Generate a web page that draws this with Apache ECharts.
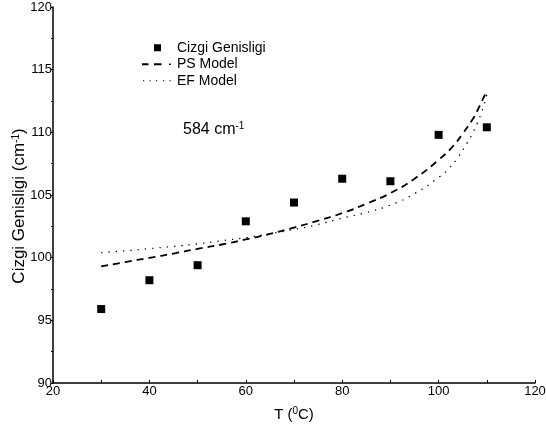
<!DOCTYPE html>
<html>
<head>
<meta charset="utf-8">
<script src="https://cdn.jsdelivr.net/npm/echarts@6/dist/echarts.min.js"></script>
<style>html,body{margin:0;padding:0;background:#fff}#c{width:546px;height:427px}</style>
</head>
<body>
<div id="c"></div>
<script>
// Measured data (Cizgi Genisligi)
var measT = [30, 40, 50, 60, 70, 80, 90, 100, 110];
var measW = [95.9, 98.2, 99.4, 102.9, 104.4, 106.3, 106.1, 109.8, 110.4];

// PS Model curve
var psT = [30, 35, 40, 45, 50, 55, 60, 65, 70, 75, 80, 85, 90, 95, 100, 103, 105, 107, 108, 109, 110];
var psW = [99.3, 99.65, 99.98, 100.33, 100.7, 101.05, 101.45, 101.9, 102.4, 102.95, 103.55, 104.3, 105.15, 106.3, 107.8, 108.9, 109.9, 111.0, 111.7, 112.5, 113.3];

// EF Model curve
var efT = [30, 35, 40, 45, 50, 55, 60, 65, 70, 75, 80, 85, 90, 95, 100, 102, 104, 106, 107, 108, 109, 110];
var efW = [100.4, 100.55, 100.72, 100.9, 101.1, 101.35, 101.6, 101.9, 102.25, 102.65, 103.15, 103.6, 104.2, 105.1, 106.4, 107.05, 108.0, 109.2, 109.9, 110.7, 111.7, 113.0];

var seriesNames = ['Cizgi Genisligi', 'PS Model', 'EF Model'];

function zip(a, b) { return a.map(function (v, i) { return [v, b[i]]; }); }

// legend icons (30 x 8 box; corner stubs fix the bounding box)
var box = 'M0,0 L0.01,0 L0.01,0.01 Z M30,8 L29.99,8 L29.99,7.99 Z ';
var iconSquare = 'path://' + box + 'M12,0.5 L19,0.5 L19,7.5 L12,7.5 Z';
var iconDash = 'path://' + box + 'M0,3.1 L6.5,3.1 L6.5,4.9 L0,4.9 Z M12,3.1 L19.5,3.1 L19.5,4.9 L12,4.9 Z M27,3.2 L28.8,3.2 L28.8,4.8 L27,4.8 Z';
var iconDot = 'path://' + box + 'M1,3.4 L2.2,3.4 L2.2,4.6 L1,4.6 Z M7.5,3.4 L8.7,3.4 L8.7,4.6 L7.5,4.6 Z M14,3.4 L15.2,3.4 L15.2,4.6 L14,4.6 Z M21,3.4 L22.2,3.4 L22.2,4.6 L21,4.6 Z M27.5,3.4 L28.7,3.4 L28.7,4.6 L27.5,4.6 Z';

var font = 'Liberation Sans, Arial, sans-serif';
var supStyle = { fontSize: 10, verticalAlign: 'top', fontFamily: font, color: '#000', padding: [0, 0, 7, 0] };
var chart = echarts.init(document.getElementById('c'), null, { renderer: 'canvas' });
chart.setOption({
  animation: false,
  backgroundColor: '#fff',
  textStyle: { fontFamily: font, color: '#000' },
  grid: { left: 53, right: 11, top: 7, bottom: 44, containLabel: false, outerBoundsMode: 'none' },
  legend: {
    orient: 'vertical',
    left: 137, top: 35,
    itemWidth: 30, itemHeight: 8, itemGap: 1,
    itemStyle: { color: '#000', opacity: 1 },
    textStyle: { fontFamily: font, fontSize: 14, color: '#000', lineHeight: 15.5 },
    data: [
      { name: seriesNames[0], icon: iconSquare },
      { name: seriesNames[1], icon: iconDash },
      { name: seriesNames[2], icon: iconDot }
    ]
  },
  xAxis: {
    type: 'value', min: 20, max: 120, interval: 20,
    name: 'T ({s|0}C)',
    nameLocation: 'middle', nameGap: 23, nameMoveOverlap: false,
    nameTextStyle: {
      fontFamily: font, fontSize: 15, color: '#000',
      rich: { s: supStyle }
    },
    axisLine: { show: true, lineStyle: { color: '#000', width: 1.5 } },
    axisTick: { show: true, inside: true, length: 3, lineStyle: { color: '#000' } },
    minorTick: { show: true, splitNumber: 2, length: 3, lineStyle: { color: '#000' } },
    splitLine: { show: false },
    axisLabel: { fontFamily: font, fontSize: 13, color: '#000', margin: 2 }
  },
  yAxis: {
    type: 'value', min: 90, max: 120, interval: 5,
    name: 'Cizgi Genisligi (cm{s|-1})',
    nameLocation: 'middle', nameGap: 25, nameMoveOverlap: false,
    nameTextStyle: {
      fontFamily: font, fontSize: 17, color: '#000',
      padding: [0, 22, 0, 0],
      rich: { s: supStyle }
    },
    axisLine: { show: true, lineStyle: { color: '#000', width: 1.5 } },
    axisTick: { show: true, inside: false, length: 2, lineStyle: { color: '#000' } },
    minorTick: { show: true, splitNumber: 2, length: 2, lineStyle: { color: '#000' } },
    splitLine: { show: false },
    axisLabel: { fontFamily: font, fontSize: 13, color: '#000', margin: 1 }
  },
  graphic: [{
    type: 'text', left: 183, top: 121,
    style: {
      text: '584 cm{s|-1}',
      fontFamily: font, fontSize: 16, fill: '#000',
      rich: { s: { fontSize: 10, verticalAlign: 'top', fontFamily: font, fill: '#000', padding: [0, 0, 7, 0] } }
    }
  }],
  series: [
    {
      name: seriesNames[0], type: 'scatter', symbol: 'rect', symbolSize: 8,
      itemStyle: { color: '#000', opacity: 1 },
      data: zip(measT, measW), z: 3
    },
    {
      name: seriesNames[1], type: 'line', symbol: 'none', smooth: true,
      lineStyle: { color: '#000', width: 1.8, type: [7, 5] },
      itemStyle: { color: '#000' },
      data: zip(psT, psW)
    },
    {
      name: seriesNames[2], type: 'line', symbol: 'none', smooth: true,
      lineStyle: { color: '#000', width: 1.3, type: [1.3, 6] },
      itemStyle: { color: '#000' },
      data: zip(efT, efW)
    }
  ]
});
</script>
</body>
</html>
